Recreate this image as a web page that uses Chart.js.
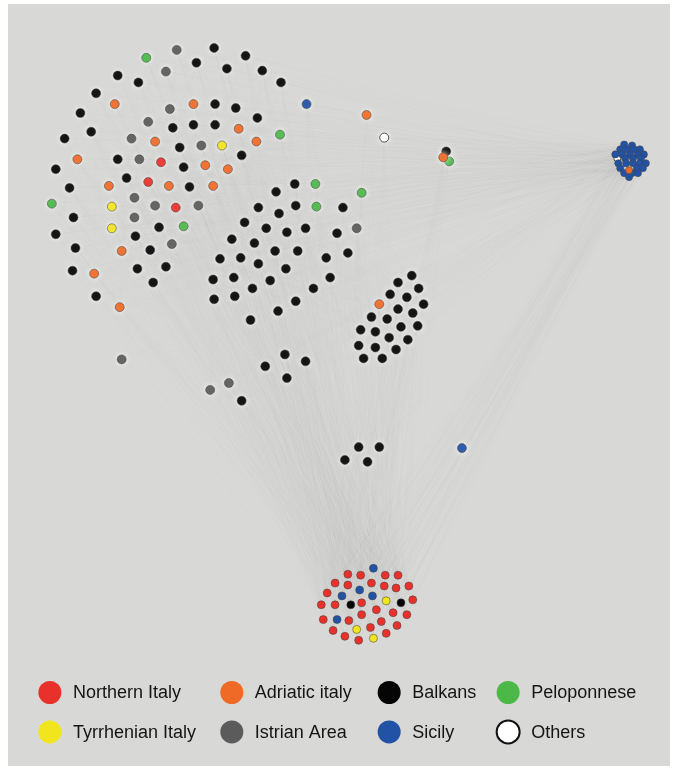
<!DOCTYPE html>
<html>
<head>
<meta charset="utf-8">
<script src="https://cdn.jsdelivr.net/npm/chart.js@4.4.0/dist/chart.umd.min.js"></script>
<style>
    html, body { margin: 0; padding: 0; background: #fff; }
    #panel { position: absolute; left: 8px; top: 4px; width: 662px; height: 762px; background: #d8d8d6; }
</style>
</head>
<body>
<div id="panel"><canvas id="network" width="662" height="762"></canvas></div>
<script>
// node positions, grouped by region and cluster
const northernMain = [[158,159],[145,179],[173,205]];
const northernBottom = [[348,577],[361,578],[386,578],[399,578],[335,586],[348,588],[372,586],[385,589],[397,591],[410,589],
    [327,596],[414,603],[321,608],[335,608],[362,606],[377,613],[394,616],[408,618],[323,623],[349,624],[362,618],[382,625],
    [398,629],[333,634],[371,631],[387,637],[345,640],[359,644]];

const adriaticMain = [[111,100],[191,100],[152,138],[73,156],[203,162],[166,183],[105,183],[211,183],[237,125],[255,138],
    [226,166],[118,249],[90,272],[116,306],[367,111],[380,303],[445,154]];
const adriaticHub = [[634,167]];

const balkansMain = [
    // big upper-left group
    [212,43],[194,58],[244,51],[225,64],[261,66],[280,78],[114,71],[135,78],[92,89],[76,109],[191,121],[170,124],[87,128],
    [60,135],[177,144],[114,156],[181,164],[51,166],[123,175],[187,184],[65,185],[213,100],[234,104],[256,114],[213,121],
    [240,152],[69,215],[156,225],[51,232],[132,234],[71,246],[147,248],[68,269],[134,267],[163,265],[150,281],[92,295],
    [275,189],[294,181],
    // grid
    [257,205],[278,211],[295,203],[343,205],[243,220],[265,226],[286,230],[305,226],[337,231],[230,237],[253,241],[274,249],
    [297,249],[348,251],[218,257],[239,256],[257,262],[285,267],[326,256],[211,278],[232,276],[269,279],[330,276],[251,287],
    [313,287],[212,298],[233,295],[295,300],[277,310],[249,319],
    // right group
    [413,274],[399,281],[420,287],[391,293],[408,296],[425,303],[399,308],[414,312],[372,316],[388,318],[402,326],[419,325],
    [361,329],[376,331],[390,337],[409,339],[359,345],[376,347],[397,349],[364,358],[383,358],
    // loose ones
    [284,354],[305,361],[264,366],[286,378],[240,401],[359,448],[380,448],[345,461],[368,463],[448,148]
];
const balkansBottom = [[351,608],[402,606]];

const peloponneseMain = [[143,53],[47,201],[181,224],[279,131],[315,181],[362,190],[316,204],[451,158]];

const tyrrhenianMain = [[220,142],[108,204],[108,226]];
const tyrrhenianBottom = [[387,604],[357,633],[374,642]];

const istrianMain = [[174,45],[163,67],[167,105],[145,118],[128,135],[199,142],[136,156],[131,195],[152,203],[196,203],
    [131,215],[169,242],[118,359],[357,226],[227,383],[208,390]];

const sicilyMain = [[306,100],[464,449]];
const sicilyBottom = [[374,571],[360,593],[342,599],[373,599],[337,623]];
const sicilyHub = [[629,141],[637,142],[625,146],[632,146],[639,146],[645,146],[620,151],[627,151],[635,151],[643,151],
    [649,151],[630,155],[638,155],[646,155],[623,160],[631,160],[638,160],[645,160],[651,160],[625,165],[642,165],[648,165],
    [629,170],[637,170],[643,170],[634,174]];

const othersMain = [[385,134]];
const othersHub = [[622,155]];

const categories = ['Northern Italy', 'Adriatic italy', 'Balkans', 'Peloponnese',
    'Tyrrhenian Italy', 'Istrian Area', 'Sicily', 'Others'];

const colours = {
    'Northern Italy': '#e8312b',
    'Adriatic italy': '#ee6a26',
    'Balkans': '#050505',
    'Peloponnese': '#4cb848',
    'Tyrrhenian Italy': '#f1e51d',
    'Istrian Area': '#5b5b5b',
    'Sicily': '#2152a6',
    'Others': '#ffffff'
};

const toPoints = arr => arr.map(p => ({x: p[0], y: p[1]}));

const mainAll = [].concat(northernMain, adriaticMain, balkansMain, peloponneseMain, tyrrhenianMain, istrianMain, sicilyMain, othersMain);
const bottomAll = [].concat(northernBottom, balkansBottom, tyrrhenianBottom, sicilyBottom);
const hubAll = [].concat(sicilyHub, adriaticHub, othersHub);

// pairs of nodes that get an edge
function linkGroups(from, to, step, offset, sameGroup){
    let out = [];
    from.forEach((a, i) => {
        to.forEach((b, j) => {
            if (sameGroup && j <= i) return;
            if ((i + j + offset) % step === 0) {
                out.push({x: a[0], y: a[1]}, {x: b[0], y: b[1]}, {x: null, y: null});
            }
        });
    });
    return out;
}

function edgeSet(data, colour, width){
    return {
        label: '_edges',
        data: data,
        showLine: true,
        spanGaps: false,
        pointRadius: 0,
        pointHoverRadius: 0,
        borderColor: colour,
        borderWidth: width,
        segment: {},
        order: 10
    };
}

function nodeSet(label, arr, radius){
    return {
        label: label,
        data: toPoints(arr),
        backgroundColor: colours[label],
        borderColor: label === 'Others' ? 'rgba(60,60,60,0.9)' : 'rgba(70,70,70,0.55)',
        borderWidth: 1,
        pointRadius: radius,
        pointHoverRadius: radius,
        order: 0
    };
}

const edgeColour = 'rgba(135,140,150,0.02)';

let datasets = [
    edgeSet(linkGroups(mainAll, bottomAll, 5, 0, false), edgeColour, 0.5),
    edgeSet(linkGroups(mainAll, hubAll, 9, 3, false), 'rgba(135,140,150,0.015)', 0.5),
    edgeSet(linkGroups(mainAll, mainAll, 11, 1, true), 'rgba(135,140,150,0.025)', 0.5),
    edgeSet(linkGroups(bottomAll, hubAll, 7, 2, false), 'rgba(135,140,150,0.015)', 0.5),

    nodeSet('Northern Italy', northernMain, 4.5),
    nodeSet('Northern Italy', northernBottom, 4),
    nodeSet('Adriatic italy', adriaticMain, 4.5),
    nodeSet('Adriatic italy', adriaticHub, 3.5),
    nodeSet('Balkans', balkansMain, 4.5),
    nodeSet('Balkans', balkansBottom, 4),
    nodeSet('Peloponnese', peloponneseMain, 4.5),
    nodeSet('Tyrrhenian Italy', tyrrhenianMain, 4.5),
    nodeSet('Tyrrhenian Italy', tyrrhenianBottom, 4),
    nodeSet('Istrian Area', istrianMain, 4.5),
    nodeSet('Sicily', sicilyMain, 4.5),
    nodeSet('Sicily', sicilyBottom, 4),
    nodeSet('Sicily', sicilyHub, 3.6),
    nodeSet('Others', othersMain, 4.5),
    nodeSet('Others', othersHub, 3.5)
];

// soft light halo round the loose nodes (not the packed clusters)
const nodeGlow = {
    id: 'nodeGlow',
    beforeDatasetDraw(chart, args){
        const ds = chart.data.datasets[args.index];
        if (ds.label === '_edges' || ds.pointRadius < 4.5) return;
        chart.ctx.shadowColor = 'rgba(255,255,255,0.85)';
        chart.ctx.shadowBlur = 5;
    },
    afterDatasetDraw(chart){
        chart.ctx.shadowBlur = 0;
        chart.ctx.shadowColor = 'rgba(0,0,0,0)';
    }
};

// two-row legend with big dots, drawn under the network
const legendBlock = {
    id: 'legendBlock',
    afterDraw(chart){
        const ctx = chart.ctx;
        const xs = chart.scales.x, ys = chart.scales.y;
        const dotX = [45, 230, 390, 511];
        const rowY = [697, 737];
        ctx.save();
        ctx.font = '18px "Liberation Sans", Arial, sans-serif';
        ctx.textBaseline = 'middle';
        categories.forEach((cat, k) => {
            const cx = xs.getPixelForValue(dotX[k % 4]);
            const cy = ys.getPixelForValue(rowY[Math.floor(k / 4)]);
            ctx.beginPath();
            ctx.arc(cx, cy, 11.5, 0, Math.PI * 2);
            ctx.fillStyle = colours[cat];
            ctx.fill();
            if (cat === 'Others') {
                ctx.lineWidth = 2;
                ctx.strokeStyle = '#111';
                ctx.stroke();
            }
            ctx.fillStyle = '#151515';
            ctx.fillText(cat, cx + 23, cy + 1);
        });
        ctx.restore();
    }
};

let ctx = document.getElementById('network').getContext('2d');

let networkChart = new Chart(ctx, {
    type: 'scatter',
    data: { datasets: datasets },
    options: {
        responsive: false,
        animation: false,
        devicePixelRatio: 1,
        layout: { padding: 0 },
        plugins: {
            legend: { display: false },
            tooltip: { enabled: false }
        },
        scales: {
            x: { type: 'linear', min: 8, max: 670, display: false },
            y: { type: 'linear', min: 4, max: 766, reverse: true, display: false }
        }
    },
    plugins: [nodeGlow, legendBlock]
});
</script>
</body>
</html>
